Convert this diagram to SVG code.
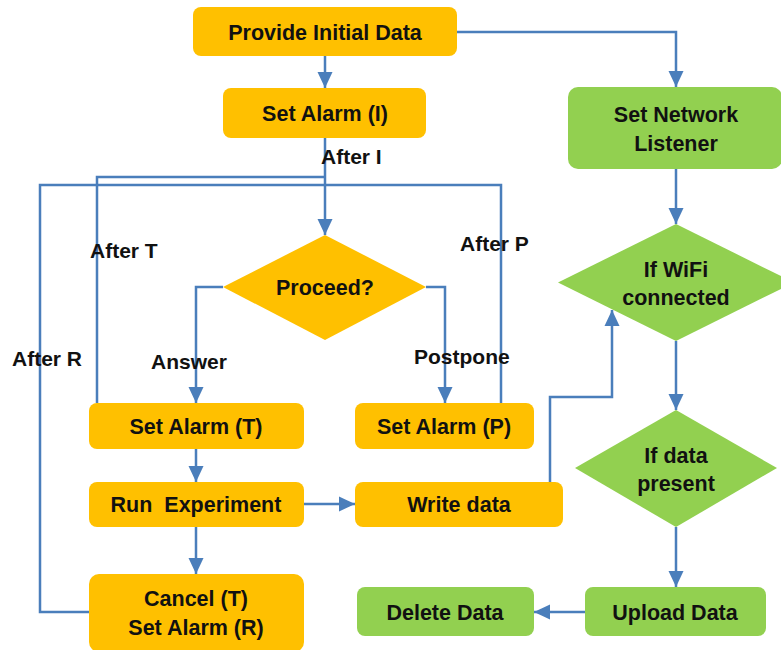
<svg xmlns="http://www.w3.org/2000/svg" width="781" height="650" viewBox="0 0 781 650">
<defs>
<marker id="arr" markerUnits="userSpaceOnUse" markerWidth="16" markerHeight="16" viewBox="0 0 16 16" refX="16" refY="8" orient="auto">
<path d="M0,0.5 L16,8 L0,15.5 z" fill="#4A7EBB"/>
</marker>
<style>
.o{fill:#FFC000}
.g{fill:#92D050}
.t{font-family:"Liberation Sans",Arial,sans-serif;font-weight:bold;font-size:21.5px;fill:#111;text-anchor:middle;white-space:pre}
.l{font-family:"Liberation Sans",Arial,sans-serif;font-weight:bold;font-size:21px;fill:#111}
.c{fill:none;stroke:#4A7EBB;stroke-width:2.5}
</style>
</defs>
<rect width="781" height="650" fill="#fff"/>
<g id="connectors">
<path class="c" d="M325,56 V88" marker-end="url(#arr)"/>
<path class="c" d="M325,138 V235" marker-end="url(#arr)"/>
<path class="c" d="M97,403 V177 H325"/>
<path class="c" d="M89,612 H40 V185 H501 V403"/>
<path class="c" d="M223,287 H196 V403" marker-end="url(#arr)"/>
<path class="c" d="M426,287 H445 V403" marker-end="url(#arr)"/>
<path class="c" d="M196,449 V482" marker-end="url(#arr)"/>
<path class="c" d="M304,504 H355" marker-end="url(#arr)"/>
<path class="c" d="M196,527 V574" marker-end="url(#arr)"/>
<path class="c" d="M457,32 H676 V87" marker-end="url(#arr)"/>
<path class="c" d="M676,169 V224" marker-end="url(#arr)"/>
<path class="c" d="M550,482 V397 H612 V310" marker-end="url(#arr)"/>
<path class="c" d="M676,341 V410" marker-end="url(#arr)"/>
<path class="c" d="M676,527 V587" marker-end="url(#arr)"/>
<path class="c" d="M585,612 H534" marker-end="url(#arr)"/>
<text class="l" x="321" y="164">After I</text>
<text class="l" x="90" y="258">After T</text>
<text class="l" x="460" y="251">After P</text>
<text class="l" x="12" y="366">After R</text>
<text class="l" x="151" y="369">Answer</text>
<text class="l" x="414" y="364">Postpone</text>
</g>
<g id="provide"><rect class="o" x="193" y="7" width="264" height="49" rx="8"/><text class="t" x="325" y="40">Provide Initial Data</text></g>
<g id="alarmI"><rect class="o" x="223" y="88" width="203" height="50" rx="8"/><text class="t" x="325" y="121">Set Alarm (I)</text></g>
<g id="proceed"><polygon class="o" points="325,235 426,287 325,340 223,287"/><text class="t" x="325" y="295">Proceed?</text></g>
<g id="alarmT"><rect class="o" x="89" y="403" width="215" height="46" rx="8"/><text class="t" x="196" y="434">Set Alarm (T)</text></g>
<g id="alarmP"><rect class="o" x="355" y="403" width="179" height="46" rx="8"/><text class="t" x="444" y="434">Set Alarm (P)</text></g>
<g id="run"><rect class="o" x="89" y="482" width="215" height="45" rx="8"/><text class="t" x="196" y="512">Run  Experiment</text></g>
<g id="write"><rect class="o" x="355" y="482" width="208" height="45" rx="8"/><text class="t" x="459" y="512">Write data</text></g>
<g id="cancel"><rect class="o" x="89" y="574" width="215" height="78" rx="10"/><text class="t" x="196" y="606">Cancel (T)</text><text class="t" x="196" y="635">Set Alarm (R)</text></g>
<g id="network"><rect class="g" x="568" y="87" width="214" height="82" rx="10"/><text class="t" x="676" y="122">Set Network</text><text class="t" x="676" y="151">Listener</text></g>
<g id="wifi"><polygon class="g" points="676,224 794,282.5 676,341 558,282.5"/><text class="t" x="676" y="277">If WiFi</text><text class="t" x="676" y="305">connected</text></g>
<g id="datapresent"><polygon class="g" points="676,410 777,468 676,527 575,468"/><text class="t" x="676" y="463">If data</text><text class="t" x="676" y="491">present</text></g>
<g id="upload"><rect class="g" x="585" y="587" width="181" height="49" rx="8"/><text class="t" x="675" y="620">Upload Data</text></g>
<g id="delete"><rect class="g" x="357" y="587" width="177" height="49" rx="8"/><text class="t" x="445" y="620">Delete Data</text></g>
</svg>
